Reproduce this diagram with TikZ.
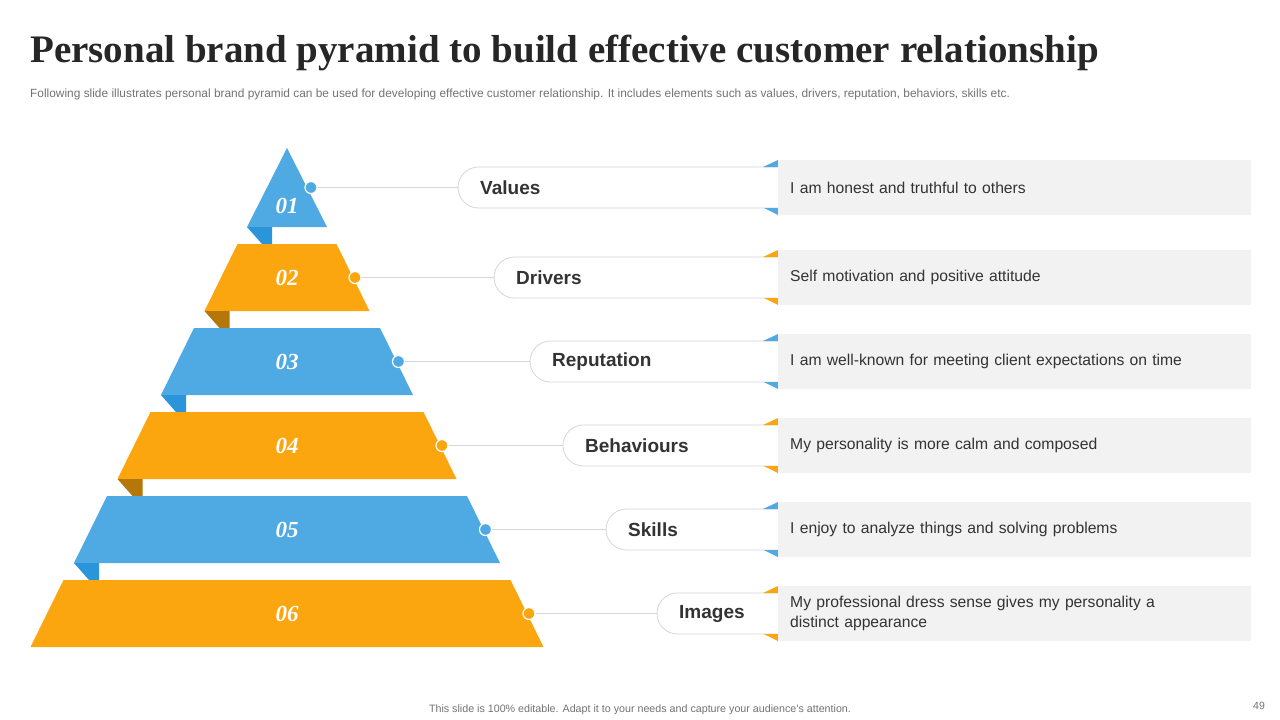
\documentclass[tikz,border=0pt]{standalone}
\usepackage{fontspec}
\setmainfont{Liberation Serif}
\setsansfont{Liberation Sans}
\usepackage{xcolor}
\usetikzlibrary{positioning,calc}

\definecolor{tierblue}{HTML}{4FA9E2}
\definecolor{tierorange}{HTML}{FBA50F}
\definecolor{flapblue}{HTML}{2A95DB}
\definecolor{flaporange}{HTML}{B5760A}
\definecolor{boxgray}{HTML}{F2F2F2}
\definecolor{pillgray}{HTML}{D6D6D6}
\definecolor{textdark}{HTML}{333333}

\begin{document}
\begin{tikzpicture}[
    x=1pt, y=1pt,
    num/.style={font=\rmfamily\bfseries\itshape\fontsize{23}{23}\selectfont, text=white, inner sep=0pt},
    dot/.style={circle, draw=white, line width=1.2pt, minimum size=12pt, inner sep=0pt},
    pill/.style={draw=pillgray, line width=0.8pt, rounded corners=20.5pt},
    pilltext/.style={anchor=west, inner sep=0pt, font=\sffamily\bfseries\fontsize{19}{19}\selectfont, text=textdark},
    descbox/.style={anchor=west, fill=boxgray, minimum width=473pt, minimum height=55pt, text width=449pt, inner xsep=12pt, align=left, font=\sffamily\fontsize{15.7}{20}\selectfont, text=textdark},
    link/.style={draw=pillgray, line width=0.8pt},
]

% Page
\fill[white] (0,0) rectangle (1280,-720);
\useasboundingbox (0,0) rectangle (1280,-720);

% Heading
\node[anchor=base west, inner sep=0pt, font=\rmfamily\bfseries\fontsize{39}{39}\selectfont, text=black!85] (title) at (30,-62) {Personal brand pyramid to build effective customer relationship};
\node[anchor=base west, inner sep=0pt, font=\sffamily\fontsize{11.9}{12}\selectfont, text=black!55] (subtitle) at (30,-97) {Following slide illustrates personal brand pyramid can be used for developing effective  customer relationship. It includes elements such as values, drivers, reputation, behaviors, skills etc.};

% Pyramid tiers
\fill[tierblue] (287,-148) -- (327,-227) -- (247,-227) -- cycle;
\fill[flapblue] (247,-227) -- (272,-227) -- (272,-244) -- (262,-244) -- cycle;
\fill[tierorange] (237.5,-244) -- (336.5,-244) -- (369.5,-311) -- (204.5,-311) -- cycle;
\fill[flaporange] (204.5,-311) -- (229.5,-311) -- (229.5,-328) -- (219.5,-328) -- cycle;
\fill[tierblue] (194,-328) -- (380,-328) -- (413,-395) -- (161,-395) -- cycle;
\fill[flapblue] (161,-395) -- (186,-395) -- (186,-412) -- (176,-412) -- cycle;
\fill[tierorange] (150.5,-412) -- (423.5,-412) -- (456.5,-479) -- (117.5,-479) -- cycle;
\fill[flaporange] (117.5,-479) -- (142.5,-479) -- (142.5,-496) -- (132.5,-496) -- cycle;
\fill[tierblue] (107,-496) -- (467,-496) -- (500,-563) -- (74,-563) -- cycle;
\fill[flapblue] (74,-563) -- (99,-563) -- (99,-580) -- (89,-580) -- cycle;
\fill[tierorange] (63.5,-580) -- (510.5,-580) -- (543.5,-647) -- (30.5,-647) -- cycle;

% Tier numbers
\node[num] (t1) at (287,-206) {01};
\node[num] (t2) at (287,-277.5) {02};
\node[num] (t3) at (287,-361.5) {03};
\node[num] (t4) at (287,-445.5) {04};
\node[num] (t5) at (287,-529.5) {05};
\node[num] (t6) at (287,-613.5) {06};

% Pills
\draw[pill] (778,-167) -- (458,-167) -- (458,-208) -- (778,-208);
\draw[pill] (778,-257) -- (494,-257) -- (494,-298) -- (778,-298);
\draw[pill] (778,-341) -- (530,-341) -- (530,-382) -- (778,-382);
\draw[pill] (778,-425) -- (563,-425) -- (563,-466) -- (778,-466);
\draw[pill] (778,-509) -- (606,-509) -- (606,-550) -- (778,-550);
\draw[pill] (778,-593) -- (657,-593) -- (657,-634) -- (778,-634);
\coordinate (p1) at (458,-187.5);
\coordinate (p2) at (494,-277.5);
\coordinate (p3) at (530,-361.5);
\coordinate (p4) at (563,-445.5);
\coordinate (p5) at (606,-529.5);
\coordinate (p6) at (657,-613.5);
\node[pilltext] (n1) at (480,-187.5) {Values};
\node[pilltext] (n2) at (516,-277.5) {Drivers};
\node[pilltext] (n3) at (552,-361.5) {Reputation};
\node[pilltext] (n4) at (585,-445.5) {Behaviours};
\node[pilltext] (n5) at (628,-529.5) {Skills};
\node[pilltext] (n6) at (679,-613.5) {Images};

% Dots on the tiers
\node[dot, fill=tierblue] (d1) at (311,-187.5) {};
\node[dot, fill=tierorange] (d2) at (355,-277.5) {};
\node[dot, fill=tierblue] (d3) at (398.5,-361.5) {};
\node[dot, fill=tierorange] (d4) at (442,-445.5) {};
\node[dot, fill=tierblue] (d5) at (485.5,-529.5) {};
\node[dot, fill=tierorange] (d6) at (529,-613.5) {};

% Links dot -> pill
\draw[link] (d1) -- (p1);
\draw[link] (d2) -- (p2);
\draw[link] (d3) -- (p3);
\draw[link] (d4) -- (p4);
\draw[link] (d5) -- (p5);
\draw[link] (d6) -- (p6);

% Folds at the box corners
\fill[tierblue] (763,-167) -- (778,-160) -- (778,-167) -- cycle;
\fill[tierblue] (764,-208) -- (778,-208) -- (778,-215) -- cycle;
\fill[tierorange] (763,-257) -- (778,-250) -- (778,-257) -- cycle;
\fill[tierorange] (764,-298) -- (778,-298) -- (778,-305) -- cycle;
\fill[tierblue] (763,-341) -- (778,-334) -- (778,-341) -- cycle;
\fill[tierblue] (764,-382) -- (778,-382) -- (778,-389) -- cycle;
\fill[tierorange] (763,-425) -- (778,-418) -- (778,-425) -- cycle;
\fill[tierorange] (764,-466) -- (778,-466) -- (778,-473) -- cycle;
\fill[tierblue] (763,-509) -- (778,-502) -- (778,-509) -- cycle;
\fill[tierblue] (764,-550) -- (778,-550) -- (778,-557) -- cycle;
\fill[tierorange] (763,-593) -- (778,-586) -- (778,-593) -- cycle;
\fill[tierorange] (764,-634) -- (778,-634) -- (778,-641) -- cycle;

% Description boxes
\node[descbox] (b1) at (778,-187.5) {I am honest and truthful  to others};
\node[descbox] (b2) at (778,-277.5) {Self motivation and positive attitude};
\node[descbox] (b3) at (778,-361.5) {I am well-known  for meeting client expectations on time};
\node[descbox] (b4) at (778,-445.5) {My personality is more calm and composed};
\node[descbox] (b5) at (778,-529.5) {I enjoy to analyze  things and solving problems};
\node[descbox] (b6) at (778,-613.5) {My professional dress sense gives my personality  a\\distinct appearance};

% Footer
\node[anchor=base, inner sep=0pt, font=\sffamily\fontsize{10.7}{11}\selectfont, text=black!55] (footer) at (640,-712.5) {This slide is 100\% editable.  Adapt it to your needs and capture your audience's attention.};
\node[anchor=base, inner sep=0pt, font=\sffamily\fontsize{10.5}{11}\selectfont, text=black!55] (pageno) at (1259,-709.5) {49};

\end{tikzpicture}
\end{document}
